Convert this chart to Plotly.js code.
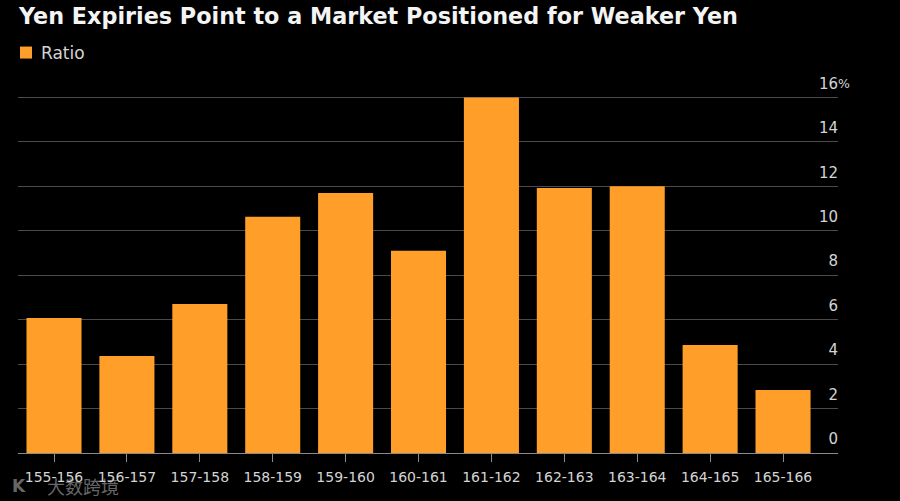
<!DOCTYPE html>
<html>
<head>
<meta charset="utf-8">
<script src="https://cdn.plot.ly/plotly-3.0.1.min.js"></script>
<style>
  html, body { margin: 0; padding: 0; background: #000; }
  #chart { width: 900px; height: 501px; }
</style>
</head>
<body>
<div id="chart"></div>
<script>
const categories = ["155-156", "156-157", "157-158", "158-159", "159-160", "160-161", "161-162", "162-163", "163-164", "164-165", "165-166"];
const ratio = [6.08, 4.37, 6.7, 10.63, 11.7, 9.1, 16, 11.93, 12, 4.86, 2.84];
const yTicks = [0, 2, 4, 6, 8, 10, 12, 14, 16];
const yLabels = ["0", "2", "4", "6", "8", "10", "12", "14", "16"];

const FONT = "'DejaVu Sans', sans-serif";
const ORANGE = "#ff9f29";
const LABEL = "#d4d4d4";

const traces = [{
  type: "bar",
  name: "Ratio",
  x: categories,
  y: ratio,
  width: 0.755,
  marker: { color: ORANGE },
  hoverinfo: "x+y",
}];

const layout = {
  width: 900,
  height: 501,
  paper_bgcolor: "#000",
  plot_bgcolor: "#000",
  // top of the range sits above 16 so the 16 gridline and label still draw
  margin: { l: 18, r: 62, t: 53, b: 48 },
  font: { family: FONT, color: LABEL, size: 15 },
  title: {
    text: "<b>Yen Expiries Point to a Market Positioned for Weaker Yen</b>",
    font: { family: FONT, size: 22.3, color: "#f4f4f4" },
    x: 19 / 900, xanchor: "left", xref: "container",
    y: 1 - 16 / 501, yanchor: "middle", yref: "container",
  },
  showlegend: true,
  legend: {
    orientation: "h",
    x: 0, xanchor: "left", xref: "paper",
    y: 1, yanchor: "middle",
    yref: "paper",
    bgcolor: "rgba(0,0,0,0)",
    font: { family: FONT, size: 17, color: LABEL },
  },
  bargap: 0.245,
  xaxis: {
    type: "category",
    range: [-0.494, 10.754],
    showgrid: false,
    showline: true,
    linecolor: "#8a8a8a",
    linewidth: 1,
    ticks: "outside",
    ticklen: 8,
    tickcolor: "#8a8a8a",
    ticklabelstandoff: 3,
    tickfont: { family: FONT, size: 14, color: LABEL },
    fixedrange: true,
  },
  yaxis: {
    side: "right",
    range: [0, 18],
    tickmode: "array",
    tickvals: yTicks,
    ticktext: yLabels,
    ticklabelposition: "inside",
    ticklabeloverflow: "allow",
    ticklabelshift: -14,
    ticklabelstandoff: -3,
    showgrid: true,
    gridcolor: "#4a4a4a",
    gridwidth: 1.3,
    zeroline: false,
    ticks: "",
    tickfont: { family: FONT, size: 15, color: LABEL },
    fixedrange: true,
  },
  annotations: [
    { text: "%", xref: "paper", yref: "y", x: 1, y: 16, xanchor: "left", yanchor: "middle", yshift: 14, xshift: -2, showarrow: false, font: { family: FONT, size: 12.5, color: LABEL } },
    { text: "大数跨境", xref: "paper", yref: "paper", xanchor: "left", yanchor: "middle", x: 27 / 820, y: -33 / 400, showarrow: false, opacity: 0.55, font: { family: "'Noto Sans CJK SC'", size: 18, color: "#bbbbbb" } },
    { text: "<b>K</b>", xref: "paper", yref: "paper", xanchor: "left", yanchor: "middle", x: -8 / 820, y: -33 / 400, showarrow: false, opacity: 0.55, font: { family: FONT, size: 17, color: "#bbbbbb" } },
  ],
};

Plotly.newPlot("chart", traces, layout, { displayModeBar: false }).then(() => {
  // plotly pushes the margins if the legend overhangs the plot, so nudge it left after drawing
  const lg = document.querySelector("#chart .legend");
  const m = /translate\(([-\d.]+)[ ,]+([-\d.]+)\)/.exec(lg.getAttribute("transform"));
  lg.setAttribute("transform", `translate(${Number(m[1]) - 12},${m[2]})`);
  // the legend gap is fixed too, the original has the label closer to the swatch
  const t = lg.querySelector(".legendtext");
  t.setAttribute("x", Number(t.getAttribute("x")) - 5);
});
</script>
</body>
</html>
